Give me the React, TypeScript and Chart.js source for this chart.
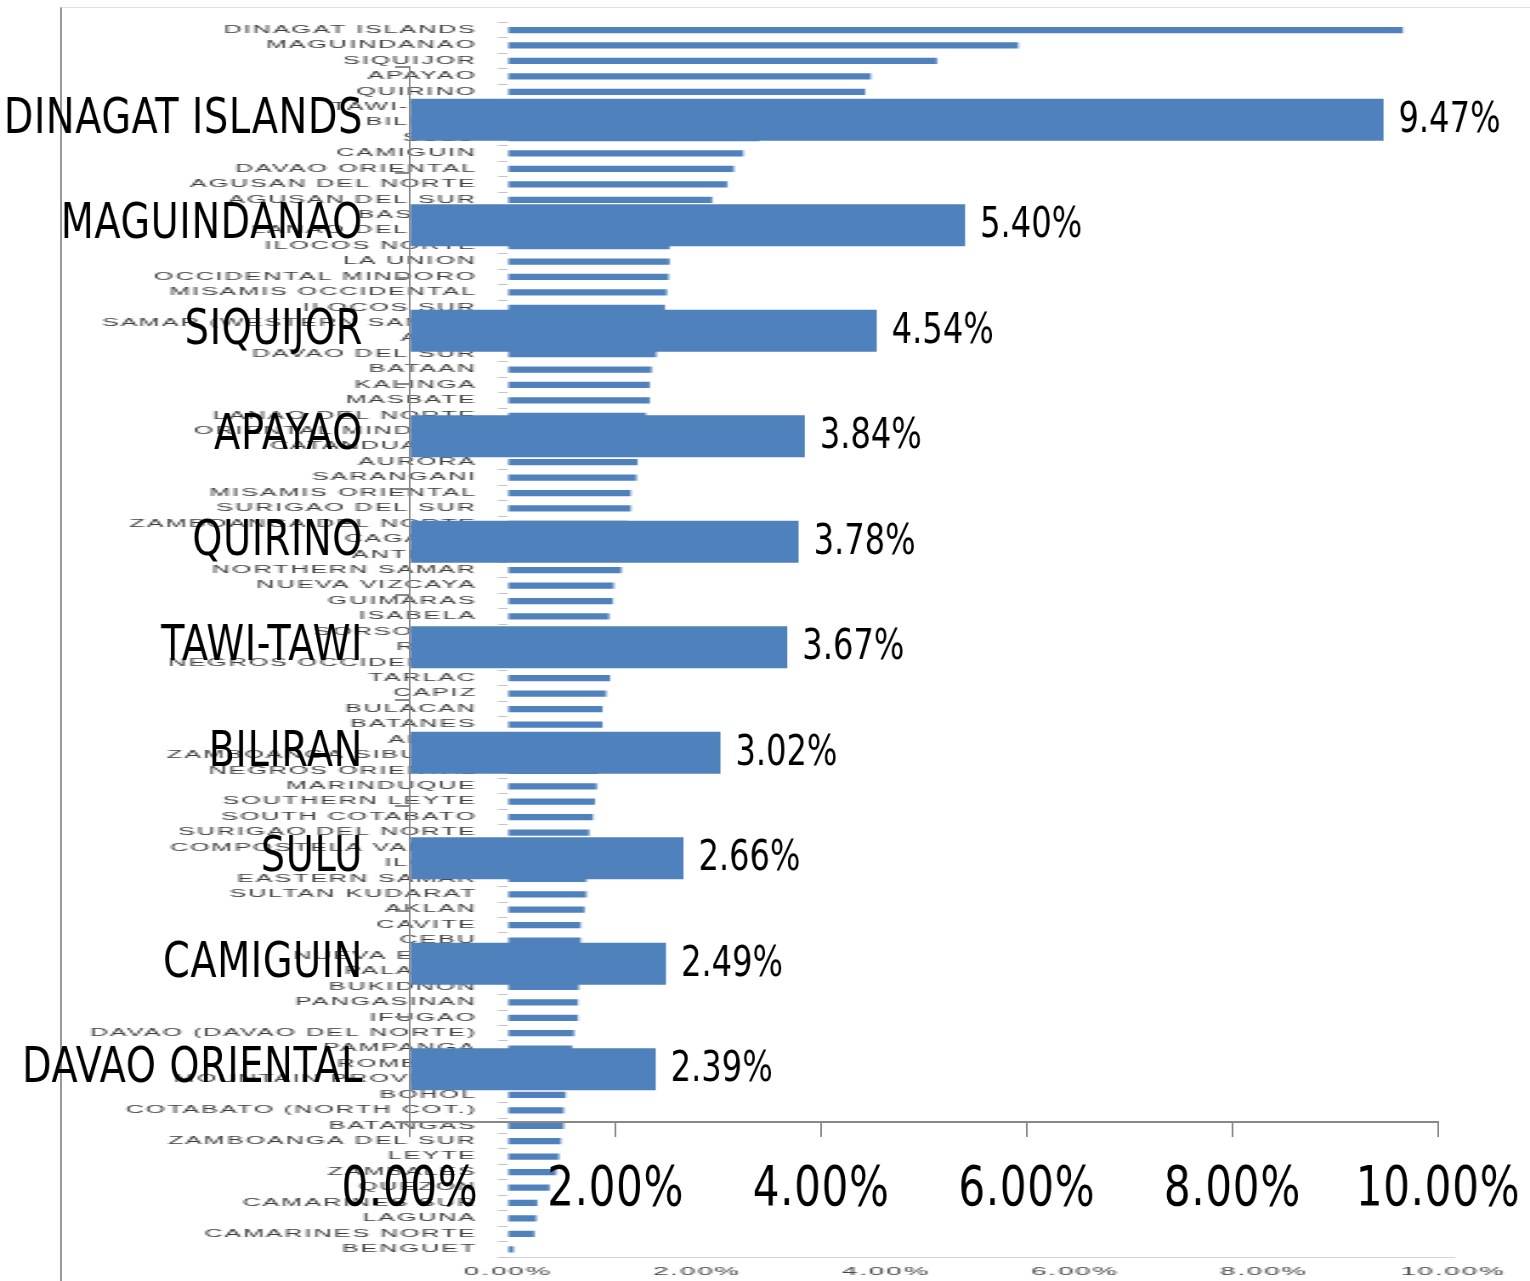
import React, { useEffect, useRef } from "react";
import { Chart, registerables } from "chart.js";

Chart.register(...registerables);

// ---------- background (all provinces) ----------
const bgLabels = [
  "DINAGAT ISLANDS", "MAGUINDANAO", "SIQUIJOR", "APAYAO", "QUIRINO",
  "TAWI-TAWI", "BILIRAN", "SULU", "CAMIGUIN", "DAVAO ORIENTAL",
  "AGUSAN DEL NORTE", "AGUSAN DEL SUR", "BASILAN", "LANAO DEL SUR", "ILOCOS NORTE",
  "LA UNION", "OCCIDENTAL MINDORO", "MISAMIS OCCIDENTAL", "ILOCOS SUR", "SAMAR (WESTERN SAMAR)",
  "ABRA", "DAVAO DEL SUR", "BATAAN", "KALINGA", "MASBATE",
  "LANAO DEL NORTE", "ORIENTAL MINDORO", "CATANDUANES", "AURORA", "SARANGANI",
  "MISAMIS ORIENTAL", "SURIGAO DEL SUR", "ZAMBOANGA DEL NORTE", "CAGAYAN", "ANTIQUE",
  "NORTHERN SAMAR", "NUEVA VIZCAYA", "GUIMARAS", "ISABELA", "SORSOGON",
  "RIZAL", "NEGROS OCCIDENTAL", "TARLAC", "CAPIZ", "BULACAN",
  "BATANES", "ALBAY", "ZAMBOANGA SIBUGAY", "NEGROS ORIENTAL", "MARINDUQUE",
  "SOUTHERN LEYTE", "SOUTH COTABATO", "SURIGAO DEL NORTE", "COMPOSTELA VALLEY", "ILOILO",
  "EASTERN SAMAR", "SULTAN KUDARAT", "AKLAN", "CAVITE", "CEBU",
  "NUEVA ECIJA", "PALAWAN", "BUKIDNON", "PANGASINAN", "IFUGAO",
  "DAVAO (DAVAO DEL NORTE)", "PAMPANGA", "ROMBLON", "MOUNTAIN PROVINCE", "BOHOL",
  "COTABATO (NORTH COT.)", "BATANGAS", "ZAMBOANGA DEL SUR", "LEYTE", "ZAMBALES",
  "QUEZON", "CAMARINES SUR", "LAGUNA", "CAMARINES NORTE", "BENGUET",
];
const bgValues = [
  9.47, 5.40, 4.54, 3.84, 3.78,
  3.67, 3.02, 2.66, 2.49, 2.39,
  2.32, 2.16, 2.00, 1.85, 1.71,
  1.71, 1.70, 1.68, 1.66, 1.64,
  1.60, 1.57, 1.52, 1.50, 1.50,
  1.46, 1.44, 1.40, 1.37, 1.36,
  1.30, 1.30, 1.26, 1.24, 1.22,
  1.20, 1.12, 1.11, 1.07, 1.07,
  1.07, 1.07, 1.08, 1.04, 1.00,
  1.00, 0.98, 0.96, 0.95, 0.94,
  0.92, 0.90, 0.86, 0.85, 0.84,
  0.83, 0.83, 0.81, 0.77, 0.77,
  0.76, 0.76, 0.75, 0.74, 0.74,
  0.70, 0.68, 0.66, 0.64, 0.61,
  0.59, 0.59, 0.56, 0.54, 0.51,
  0.44, 0.31, 0.30, 0.28, 0.06,
];

// ---------- foreground (top 10) ----------
const fgLabels = [
  "DINAGAT ISLANDS", "MAGUINDANAO", "SIQUIJOR", "APAYAO", "QUIRINO",
  "TAWI-TAWI", "BILIRAN", "SULU", "CAMIGUIN", "DAVAO ORIENTAL",
];
const fgValues = [9.47, 5.40, 4.54, 3.84, 3.78, 3.67, 3.02, 2.66, 2.49, 2.39];

const axisMin = 0;
const axisMax = 10;
const axisStep = 2;

const BLUE = "#4F81BD";
const NARROW = "'DejaVu Sans Condensed', 'DejaVu Sans', sans-serif";
const WIDE = "'Liberation Sans', Arial, sans-serif";
const BG_STRETCH = 2.5; // background drawn narrow, stretched wide
const FG_SQUEEZE = 0.85; // foreground drawn wide, squeezed
const FG_W = 1530 / FG_SQUEEZE;
const fx = (px: number) => px / FG_SQUEEZE;

const pct = (v: any) => Number(v).toFixed(2) + "%";

const bgSpacingPlugin = {
  id: "bgSpacing",
  beforeDraw(chart: any) {
    chart.ctx.letterSpacing = "0.8px";
  },
};

const fgSpacingPlugin = {
  id: "fgSpacing",
  beforeDraw(chart: any) {
    chart.ctx.letterSpacing = "0.8px";
  },
};

const valueLabelPlugin = {
  id: "valueLabels",
  afterDatasetsDraw(chart: any) {
    const ctx = chart.ctx;
    const meta = chart.getDatasetMeta(0);
    ctx.save();
    ctx.letterSpacing = "0px";
    ctx.font = `42px ${NARROW}`;
    ctx.fillStyle = "#000";
    ctx.textAlign = "left";
    ctx.textBaseline = "middle";
    meta.data.forEach((bar: any, i: number) => {
      const v = chart.data.datasets[0].data[i];
      ctx.fillText(pct(v), bar.x + fx(15), bar.y + 1);
    });
    ctx.restore();
  },
};

export default function App() {
  const bgRef = useRef<HTMLCanvasElement>(null);
  const fgRef = useRef<HTMLCanvasElement>(null);

  useEffect(() => {
    const bg = new Chart(bgRef.current!, {
      type: "bar",
      data: {
        labels: bgLabels,
        datasets: [
          {
            data: bgValues,
            backgroundColor: BLUE,
            barPercentage: 0.45,
            categoryPercentage: 0.9,
          },
        ],
      },
      options: {
        indexAxis: "y",
        animation: false,
        responsive: false,
        devicePixelRatio: 1,
        layout: { padding: { left: 0, right: 30.8, top: 22.3, bottom: 0 } },
        plugins: { legend: { display: false }, tooltip: { enabled: false } },
        scales: {
          x: {
            min: axisMin,
            max: axisMax,
            ticks: {
              stepSize: axisStep,
              callback: (v: any) => pct(v),
              font: { family: WIDE, size: 11 },
              color: "#444",
              padding: 8,
              maxRotation: 0,
            },
            grid: { display: false, drawTicks: false },
            border: { display: true, color: "#d4d4d4" },
            afterFit: (s: any) => {
              s.height = 24;
            },
          },
          y: {
            ticks: {
              autoSkip: false,
              font: { family: WIDE, size: 10 },
              color: "#3c3c3c",
              padding: 8.4,
            },
            grid: { display: true, drawOnChartArea: false, tickLength: 4, color: "#c4c4c4" },
            border: { display: false },
            afterFit: (s: any) => {
              s.width = 508 / BG_STRETCH;
            },
          },
        },
      } as any,
      plugins: [bgSpacingPlugin],
    });

    const fg = new Chart(fgRef.current!, {
      type: "bar",
      data: {
        labels: fgLabels,
        datasets: [
          {
            data: fgValues,
            backgroundColor: BLUE,
            barPercentage: 0.4,
            categoryPercentage: 1,
          },
        ],
      },
      options: {
        indexAxis: "y",
        animation: false,
        responsive: false,
        devicePixelRatio: 1,
        layout: { padding: { left: 0, right: FG_W - fx(1438), top: 67, bottom: 0 } },
        plugins: { legend: { display: false }, tooltip: { enabled: false } },
        scales: {
          x: {
            min: axisMin,
            max: axisMax,
            ticks: {
              stepSize: axisStep,
              callback: (v: any) => pct(v),
              font: { family: NARROW, size: 55 },
              color: "#000",
              padding: 21,
              maxRotation: 0,
            },
            grid: { drawOnChartArea: false, tickLength: 15, color: "#888", lineWidth: 2 },
            border: { color: "#888", width: 2 },
            afterFit: (s: any) => {
              s.height = 1281 - 1122;
              s.paddingLeft = 0;
              s.paddingRight = 0;
            },
          },
          y: {
            ticks: {
              autoSkip: false,
              font: { family: NARROW, size: 50 },
              color: "#000",
              padding: fx(32),
            },
            grid: { drawOnChartArea: false, tickLength: fx(15), color: "#888", lineWidth: 2 },
            border: { color: "#888", width: 2 },
            afterFit: (s: any) => {
              s.width = fx(410);
              s.paddingTop = 0;
              s.paddingBottom = 0;
            },
          },
        },
      } as any,
      plugins: [fgSpacingPlugin, valueLabelPlugin],
    });

    return () => {
      bg.destroy();
      fg.destroy();
    };
  }, []);

  return (
    <div
      style={{
        position: "absolute",
        left: 0,
        top: 0,
        width: 1530,
        height: 1281,
        overflow: "hidden",
        background: "#fff",
      }}
    >
      <div
        style={{
          position: "absolute",
          left: 60,
          top: 7,
          width: 1470,
          height: 1274,
          borderLeft: "2px solid #9a9a9a",
          borderTop: "1px solid #e0e0e0",
          boxSizing: "border-box",
        }}
      />
      <div
        style={{
          position: "absolute",
          left: 0,
          top: 0,
          width: 1530 / BG_STRETCH,
          height: 1281,
          transform: `scaleX(${BG_STRETCH})`,
          transformOrigin: "0 0",
        }}
      >
        <canvas ref={bgRef} width={1530 / BG_STRETCH} height={1281} style={{ display: "block" }} />
      </div>
      <div
        style={{
          position: "absolute",
          left: 0,
          top: 0,
          width: FG_W,
          height: 1281,
          transform: `scaleX(${FG_SQUEEZE})`,
          transformOrigin: "0 0",
        }}
      >
        <canvas ref={fgRef} width={FG_W} height={1281} style={{ display: "block" }} />
      </div>
    </div>
  );
}
